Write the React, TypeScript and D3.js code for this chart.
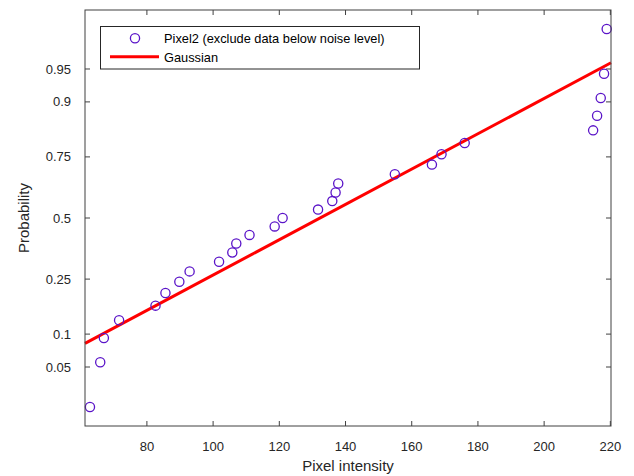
import React from 'react';
import * as d3 from 'd3';

// Pixel intensities (sorted) and their plotting probabilities
const intensities = [62.8, 65.9, 67.0, 71.6, 82.6, 85.6, 89.8, 92.9, 101.8, 105.8, 107.0, 111.0, 118.6, 121.0,
  131.7, 136.0, 137.0, 137.8, 154.9, 166.1, 169.0, 176.0, 214.8, 216.0, 217.1, 218.1, 218.9];
const probabilities = [0.0185, 0.0556, 0.0926, 0.1296, 0.1667, 0.2037, 0.2407, 0.2778, 0.3148, 0.3519, 0.3889,
  0.4259, 0.4630, 0.5, 0.5370, 0.5741, 0.6111, 0.6481, 0.6852, 0.7222, 0.7593, 0.7963, 0.8333, 0.8704, 0.9074,
  0.9444, 0.9815];

// fitted gaussian
const fitMean = 132.3;
const fitSigma = 51.3;

const xTicks = [80, 100, 120, 140, 160, 180, 200, 220];
const yTicks = [0.05, 0.1, 0.25, 0.5, 0.75, 0.9, 0.95];
const yTickLabels = ['0.05', '0.1', '0.25', '0.5', '0.75', '0.9', '0.95'];

const seriesName = 'Pixel2 (exclude data below noise level)';
const fitName = 'Gaussian';

// inverse normal CDF (Acklam)
function probit(p: number) {
  const a = [-39.69683028665376, 220.9460984245205, -275.9285104469687, 138.357751867269, -30.66479806614716, 2.506628277459239];
  const b = [-54.47609879822406, 161.5858368580409, -155.6989798598866, 66.80131188771972, -13.28068155288572];
  const c = [-0.007784894002430293, -0.3223964580411365, -2.400758277161838, -2.549732539343734, 4.374664141464968, 2.938163982698783];
  const d = [0.007784695709041462, 0.3224671290700398, 2.445134137142996, 3.754408661907416];
  const pl = 0.02425;
  if (p < pl) {
    const q = Math.sqrt(-2 * Math.log(p));
    return (((((c[0] * q + c[1]) * q + c[2]) * q + c[3]) * q + c[4]) * q + c[5]) / ((((d[0] * q + d[1]) * q + d[2]) * q + d[3]) * q + 1);
  }
  if (p > 1 - pl) return -probit(1 - p);
  const q = p - 0.5;
  const r = q * q;
  return (((((a[0] * r + a[1]) * r + a[2]) * r + a[3]) * r + a[4]) * r + a[5]) * q / (((((b[0] * r + b[1]) * r + b[2]) * r + b[3]) * r + b[4]) * r + 1);
}

export default function App() {
  const W = 634, H = 476;
  const L = 85, R = 611, T = 10, B = 426;
  const axisColor = '#404040';
  const font = 'Liberation Sans, Arial, Helvetica, sans-serif';

  const x = d3.scaleLinear().domain([61.3, 220.2]).range([L, R]);
  const z = d3.scaleLinear().domain([-2.296, 2.296]).range([B, T]);
  const y = (p: number) => z(probit(p));

  const x0 = x.domain()[0], x1 = x.domain()[1];
  const fitLine = d3.line<number>().x(v => x(v)).y(v => z((v - fitMean) / fitSigma));
  const tl = 5;

  return (
    <div style={{ position: 'fixed', left: 0, top: 0 }}>
      <svg width={W} height={H} style={{ display: 'block', background: '#fff' }} fontFamily={font}>
        <rect x={0} y={0} width={W} height={H} fill="#fff" />
        <path d={fitLine([x0, x1]) || ''} stroke="#ff0000" strokeWidth={3} fill="none" />
        {intensities.map((v, i) => (
          <circle key={i} cx={x(v)} cy={y(probabilities[i])} r={4.6} fill="none" stroke="#5a14c8" strokeWidth={1.3} />
        ))}

        {/* box */}
        <rect x={L} y={T} width={R - L} height={B - T} fill="none" stroke={axisColor} strokeWidth={1} />
        {xTicks.map(t => (
          <g key={t}>
            <line x1={x(t)} x2={x(t)} y1={B} y2={B - tl} stroke={axisColor} />
            <line x1={x(t)} x2={x(t)} y1={T} y2={T + tl} stroke={axisColor} />
            <text x={x(t)} y={451} fontSize={13} textAnchor="middle" fill="#262626">{t}</text>
          </g>
        ))}
        {yTicks.map((t, i) => (
          <g key={t}>
            <line x1={L} x2={L + tl} y1={y(t)} y2={y(t)} stroke={axisColor} />
            <line x1={R} x2={R - tl} y1={y(t)} y2={y(t)} stroke={axisColor} />
            <text x={71} y={y(t)} dy="0.35em" fontSize={13} textAnchor="end" fill="#262626">{yTickLabels[i]}</text>
          </g>
        ))}

        <text x={(L + R) / 2} y={471} fontSize={15} textAnchor="middle" fill="#262626">Pixel intensity</text>
        <text transform={`translate(29,${(T + B) / 2}) rotate(-90)`} fontSize={15} textAnchor="middle" fill="#262626">Probability</text>

        {/* legend */}
        <rect x={100.5} y={26.5} width={319} height={42.5} fill="#fff" stroke="#262626" strokeWidth={1} />
        <circle cx={135} cy={38.3} r={4.6} fill="none" stroke="#5a14c8" strokeWidth={1.3} />
        <line x1={110} x2={159} y1={56.7} y2={56.7} stroke="#ff0000" strokeWidth={3} />
        <text x={164} y={39} dy="0.35em" fontSize={12.8} fill="#000">{seriesName}</text>
        <text x={164} y={57.5} dy="0.35em" fontSize={12.8} fill="#000">{fitName}</text>
      </svg>
    </div>
  );
}
